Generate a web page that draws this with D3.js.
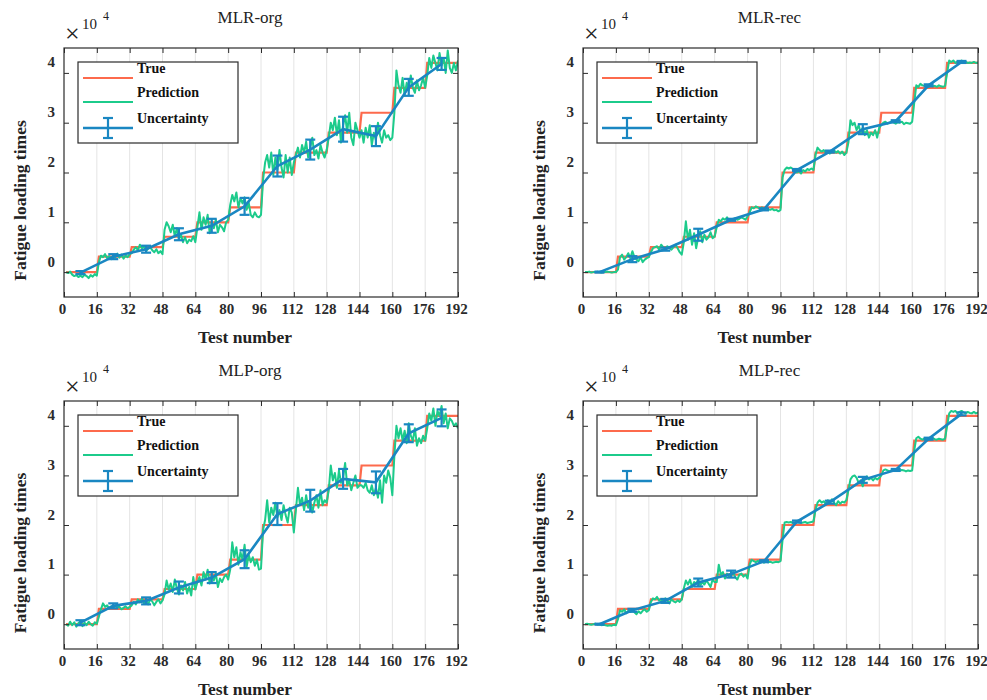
<!DOCTYPE html>
<html>
<head>
<meta charset="utf-8">
<script src="https://cdn.jsdelivr.net/npm/d3@7"></script>
<style>
  body { margin: 0; background: #fff; }
  svg { display: block; font-family: "Liberation Serif", "DejaVu Serif", serif; }
</style>
</head>
<body>
<svg id="drawing_region"></svg>
<script>
// values are in units of 1e4 (as on the y axis)
const xTicks = [0, 16, 32, 48, 64, 80, 96, 112, 128, 144, 160, 176, 192];
const yTicks = [0, 1, 2, 3, 4];
const testNumbers = d3.range(1, 193);
const uncX = [8, 24, 40, 56, 72, 88, 104, 120, 136, 152, 168, 184];

// true fatigue loading level of each block of 16 tests
const trueLevels = [0, 0.31, 0.50, 0.71, 1.00, 1.30, 2.00, 2.40, 2.80, 3.20, 3.70, 4.20];

const predMLRorg = [
  0.00,-0.02,0.01,-0.05,-0.08,-0.06,-0.10,-0.07,-0.10,-0.05,-0.08,-0.12,-0.06,-0.09,-0.04,-0.07,
  0.20,0.33,0.30,0.36,0.28,0.32,0.26,0.34,0.30,0.37,0.29,0.35,0.27,0.33,0.30,0.36,
  0.38,0.45,0.50,0.44,0.55,0.48,0.52,0.42,0.47,0.50,0.44,0.40,0.46,0.38,0.42,0.36,
  0.85,1.00,0.92,0.80,0.95,0.72,0.88,0.66,0.75,0.60,0.70,0.58,0.65,0.62,0.72,0.60,
  0.90,1.20,0.85,1.10,0.95,1.15,0.78,1.00,0.88,1.05,0.80,0.95,0.90,0.82,1.00,1.05,
  1.35,1.55,1.42,1.60,1.30,1.48,1.38,1.50,1.25,1.40,1.15,1.10,1.20,1.12,1.10,1.15,
  1.85,2.20,2.35,2.10,2.40,1.95,2.30,2.05,2.45,2.10,1.90,2.35,2.00,2.30,1.95,2.20,
  2.35,2.50,2.30,2.55,2.40,2.62,2.30,2.50,2.70,2.35,2.45,2.28,2.55,2.40,2.30,2.45,
  2.70,3.00,2.85,3.10,2.75,3.05,2.60,2.95,3.15,2.80,3.20,2.70,2.55,3.00,2.85,2.70,
  2.85,2.60,2.90,2.70,2.95,2.55,2.80,2.65,3.00,2.75,2.60,2.85,2.70,2.75,2.65,2.70,
  3.20,4.05,3.75,3.60,3.90,3.55,3.80,3.65,3.95,3.70,3.60,3.85,3.65,3.75,3.90,3.70,
  3.95,4.30,4.10,4.35,4.20,4.05,4.40,4.15,4.30,4.00,4.45,4.10,4.00,4.20,4.05,4.25
];
const predMLRrec = [
  0.00,0.00,0.01,-0.01,0.00,0.00,0.01,0.00,-0.01,0.00,0.00,0.01,0.00,-0.01,0.00,0.00,
  0.05,0.30,0.35,0.25,0.30,0.38,0.28,0.42,0.30,0.25,0.22,0.30,0.20,0.25,0.28,0.30,
  0.40,0.48,0.50,0.52,0.45,0.55,0.50,0.47,0.52,0.48,0.45,0.50,0.55,0.48,0.40,0.35,
  0.60,1.02,0.65,0.85,0.55,0.78,0.48,0.70,0.82,0.60,0.75,0.65,0.70,0.80,0.68,0.72,
  0.90,1.05,1.02,1.08,1.05,1.10,1.03,1.06,1.04,1.08,1.05,1.07,1.10,1.08,1.05,1.12,
  1.20,1.30,1.28,1.32,1.30,1.27,1.30,1.25,1.28,1.26,1.25,1.27,1.24,1.25,1.22,1.25,
  1.90,2.05,2.10,2.08,2.10,2.07,2.05,2.00,2.03,1.98,2.05,2.02,2.07,2.05,2.08,2.05,
  2.35,2.50,2.45,2.42,2.45,2.40,2.43,2.38,2.42,2.45,2.40,2.43,2.38,2.42,2.35,2.40,
  2.60,3.05,2.95,3.00,2.85,2.95,2.80,2.90,2.75,2.85,2.70,2.80,2.75,2.85,2.70,2.90,
  2.95,3.00,3.02,2.98,3.00,3.03,3.00,2.98,3.01,3.00,3.02,2.97,3.00,2.99,2.98,3.02,
  3.40,3.75,3.72,3.78,3.75,3.74,3.76,3.72,3.75,3.73,3.74,3.72,3.75,3.73,3.72,3.74,
  4.00,4.25,4.22,4.25,4.20,4.23,4.22,4.25,4.20,4.22,4.20,4.21,4.20,4.22,4.20,4.21
];
const predMLPorg = [
  0.00,-0.03,0.05,-0.02,0.04,-0.05,0.02,0.06,-0.04,0.03,-0.02,0.05,0.00,-0.03,0.04,0.01,
  0.15,0.30,0.42,0.35,0.38,0.32,0.36,0.33,0.37,0.34,0.35,0.30,0.33,0.36,0.32,0.35,
  0.38,0.45,0.40,0.50,0.44,0.52,0.42,0.48,0.40,0.50,0.46,0.38,0.45,0.50,0.42,0.48,
  0.60,0.88,0.70,0.82,0.65,0.90,0.72,0.60,0.78,0.68,0.85,0.62,0.75,0.58,0.95,0.70,
  0.85,0.95,0.78,1.05,0.90,1.10,0.82,0.98,0.88,1.02,0.75,0.92,0.85,0.95,1.00,0.90,
  1.10,1.65,1.35,1.55,1.20,1.45,1.30,1.60,1.15,1.40,1.25,1.35,1.18,1.30,1.10,1.12,
  1.90,2.10,2.50,2.05,2.35,2.20,2.45,2.15,2.30,2.10,2.40,2.20,2.05,2.35,2.25,1.85,
  2.30,2.75,2.40,2.55,2.30,2.60,2.35,2.50,2.25,2.45,2.60,2.35,2.70,2.40,2.50,2.45,
  2.70,3.20,2.90,3.05,2.75,3.10,2.85,2.95,3.25,2.80,2.90,2.70,2.85,3.00,2.75,2.80,
  2.80,2.75,2.85,2.70,2.65,2.80,2.60,2.75,2.55,2.90,2.45,3.00,2.85,3.10,2.95,2.60,
  3.40,4.00,3.75,3.95,3.70,3.90,3.65,4.05,3.80,3.70,3.95,3.60,3.75,3.65,3.80,3.70,
  3.95,4.25,4.10,4.35,4.00,4.30,4.20,4.40,4.05,4.25,3.95,4.15,4.10,4.00,4.05,3.95
];
const predMLPrec = [
  0.00,0.01,0.00,-0.01,0.00,0.01,-0.01,0.00,-0.02,-0.01,-0.02,-0.03,-0.02,-0.03,-0.01,-0.02,
  0.10,0.28,0.25,0.30,0.22,0.27,0.25,0.30,0.24,0.20,0.26,0.22,0.27,0.30,0.25,0.28,
  0.45,0.52,0.50,0.55,0.48,0.50,0.45,0.52,0.48,0.42,0.50,0.46,0.44,0.48,0.45,0.50,
  0.72,0.88,0.80,0.90,0.75,0.85,0.82,0.90,0.78,0.85,0.80,0.88,0.82,0.75,0.90,0.85,
  0.85,1.20,1.00,1.05,0.92,1.02,0.95,0.98,1.05,0.95,0.90,1.00,1.02,0.96,1.00,0.92,
  1.20,1.30,1.27,1.25,1.28,1.25,1.27,1.24,1.26,1.25,1.26,1.24,1.25,1.26,1.25,1.27,
  1.70,2.05,2.06,2.05,2.06,2.04,2.05,2.06,2.05,2.04,2.05,2.06,2.04,2.05,2.06,2.07,
  2.30,2.45,2.50,2.45,2.48,2.42,2.50,2.44,2.52,2.45,2.40,2.48,2.43,2.47,2.45,2.50,
  2.70,2.92,2.98,3.00,2.95,2.85,2.90,2.78,2.95,2.98,2.92,2.95,2.90,2.95,2.92,2.95,
  3.00,3.10,3.12,3.10,3.08,3.10,3.12,3.10,3.09,3.10,3.11,3.10,3.08,3.10,3.09,3.10,
  3.50,3.75,3.78,3.74,3.72,3.75,3.73,3.74,3.72,3.75,3.73,3.72,3.74,3.73,3.72,3.74,
  4.00,4.25,4.30,4.28,4.30,4.25,4.28,4.30,4.27,4.25,4.28,4.26,4.25,4.28,4.25,4.27
];

// uncertainty: mean and half-width at the centre of each block
const uncMeanMLRorg = [-0.01, 0.31, 0.46, 0.76, 0.93, 1.32, 2.13, 2.46, 2.87, 2.73, 3.71, 4.18];
const uncErrMLRorg  = [0.03, 0.05, 0.07, 0.12, 0.14, 0.17, 0.21, 0.20, 0.25, 0.20, 0.17, 0.12];
const uncMeanMLRrec = [0.00, 0.26, 0.46, 0.75, 1.05, 1.26, 2.05, 2.42, 2.87, 3.03, 3.75, 4.22];
const uncErrMLRrec  = [0.01, 0.06, 0.03, 0.12, 0.02, 0.02, 0.02, 0.02, 0.10, 0.02, 0.02, 0.02];
const uncMeanMLPorg = [0.03, 0.37, 0.47, 0.74, 0.94, 1.31, 2.22, 2.49, 2.93, 2.86, 3.85, 4.16];
const uncErrMLPorg  = [0.05, 0.05, 0.07, 0.12, 0.11, 0.18, 0.22, 0.22, 0.20, 0.22, 0.18, 0.17];
const uncMeanMLPrec = [0.00, 0.28, 0.47, 0.84, 1.01, 1.27, 2.07, 2.46, 2.91, 3.11, 3.74, 4.24];
const uncErrMLPrec  = [0.01, 0.03, 0.04, 0.08, 0.07, 0.02, 0.02, 0.03, 0.06, 0.02, 0.02, 0.03];

const titles = ["MLR-org", "MLR-rec", "MLP-org", "MLP-rec"];

const colors = { truth: "#fd6a4c", pred: "#1ccb8b", unc: "#1a87c2", axis: "#2b2b2b", grid: "#e4e4e4" };

const svg = d3.select("#drawing_region").attr("width", 987).attr("height", 700);

const panels = [
  { box: { left: 64, right: 458, top: 48, bottom: 297 }, pred: predMLRorg, mean: uncMeanMLRorg, err: uncErrMLRorg },
  { box: { left: 583, right: 978, top: 48, bottom: 297 }, pred: predMLRrec, mean: uncMeanMLRrec, err: uncErrMLRrec },
  { box: { left: 64, right: 458, top: 401, bottom: 649 }, pred: predMLPorg, mean: uncMeanMLPorg, err: uncErrMLPorg },
  { box: { left: 583, right: 978, top: 401, bottom: 649 }, pred: predMLPrec, mean: uncMeanMLPrec, err: uncErrMLPrec }
];

panels.forEach((p, i) => drawPanel(p, titles[i], i));

function drawPanel(p, title, idx) {
  const b = p.box;
  const g = svg.append("g");

  const x = d3.scaleLinear().domain([0, 192]).range([b.left, b.right]);
  const y = d3.scaleLinear().domain([-0.5, 4.5]).range([b.bottom, b.top]);

  // vertical grid
  g.append("g").selectAll("line")
    .data(xTicks.slice(1, -1))
    .join("line")
    .attr("x1", d => x(d)).attr("x2", d => x(d))
    .attr("y1", b.top).attr("y2", b.bottom)
    .attr("stroke", colors.grid).attr("stroke-width", 1);

  const clipId = "clip" + idx;
  g.append("clipPath").attr("id", clipId)
    .append("rect")
    .attr("x", b.left).attr("y", b.top)
    .attr("width", b.right - b.left).attr("height", b.bottom - b.top);

  const plot = g.append("g").attr("clip-path", `url(#${clipId})`);

  const line = d3.line().x(d => x(d[0])).y(d => y(d[1]));

  const trueSeries = testNumbers.map(t => [t, trueLevels[Math.floor((t - 1) / 16)]]);
  const predSeries = testNumbers.map((t, k) => [t, p.pred[k]]);
  const uncSeries = uncX.map((t, k) => [t, p.mean[k], p.err[k]]);

  plot.append("path").datum(trueSeries)
    .attr("fill", "none").attr("stroke", colors.truth).attr("stroke-width", 2.2)
    .attr("d", line);
  plot.append("path").datum(predSeries)
    .attr("fill", "none").attr("stroke", colors.pred).attr("stroke-width", 2)
    .attr("stroke-linejoin", "round")
    .attr("d", line);
  plot.append("path").datum(uncSeries)
    .attr("fill", "none").attr("stroke", colors.unc).attr("stroke-width", 2.6)
    .attr("d", line);

  // error bars
  const eb = plot.append("g").attr("stroke", colors.unc).attr("stroke-width", 2.2);
  uncSeries.forEach(d => {
    const cx = x(d[0]), y1 = y(d[1] - d[2]), y2 = y(d[1] + d[2]);
    eb.append("line").attr("x1", cx).attr("x2", cx).attr("y1", y1).attr("y2", y2);
    eb.append("line").attr("x1", cx - 5).attr("x2", cx + 5).attr("y1", y1).attr("y2", y1);
    eb.append("line").attr("x1", cx - 5).attr("x2", cx + 5).attr("y1", y2).attr("y2", y2);
  });

  // axes (ticks inside the box on all four sides)
  const axFont = sel => sel.selectAll("text")
    .attr("font-family", "Liberation Serif, serif")
    .attr("font-size", 15).attr("font-weight", "bold").attr("fill", colors.axis);

  const xAxis = g.append("g").attr("transform", `translate(0,${b.bottom})`)
    .call(d3.axisBottom(x).tickValues(xTicks).tickFormat(d3.format("d"))
      .tickSize(-5).tickSizeOuter(0).tickPadding(6));
  xAxis.call(axFont);
  xAxis.selectAll("text").attr("dx", -2);

  const yAxis = g.append("g").attr("transform", `translate(${b.left},0)`)
    .call(d3.axisLeft(y).tickValues(yTicks).tickFormat(d3.format("d"))
      .tickSize(-5).tickSizeOuter(0).tickPadding(9));
  yAxis.call(axFont);
  yAxis.selectAll("text").attr("dy", "-0.4em");

  g.append("g").attr("transform", `translate(0,${b.top})`)
    .call(d3.axisTop(x).tickValues(xTicks).tickSize(-5).tickSizeOuter(0).tickFormat(""));
  g.append("g").attr("transform", `translate(${b.right},0)`)
    .call(d3.axisRight(y).tickValues(yTicks).tickSize(-5).tickSizeOuter(0).tickFormat(""));

  g.selectAll(".domain").remove();
  g.selectAll(".tick line").attr("stroke", colors.axis);

  g.append("rect")
    .attr("x", b.left).attr("y", b.top)
    .attr("width", b.right - b.left).attr("height", b.bottom - b.top)
    .attr("fill", "none").attr("stroke", colors.axis).attr("stroke-width", 1.2);

  // title and labels
  const cx = (b.left + b.right) / 2;
  g.append("text").attr("x", cx - 11).attr("y", b.top - 25)
    .attr("text-anchor", "middle").attr("font-size", 17).attr("fill", "#222")
    .text(title);

  g.append("text").attr("x", cx - 16).attr("y", b.bottom + 46)
    .attr("text-anchor", "middle").attr("font-size", 17.5).attr("font-weight", "bold").attr("fill", "#222")
    .text("Test number");

  g.append("text")
    .attr("transform", `translate(${b.left - 44},${(b.top + b.bottom) / 2 + 28}) rotate(-90)`)
    .attr("text-anchor", "middle").attr("dominant-baseline", "central")
    .attr("font-size", 17.5).attr("font-weight", "bold").attr("fill", "#222")
    .text("Fatigue loading times");

  // x10^4 exponent label
  g.append("text").attr("x", b.left + 1).attr("y", b.top - 6)
    .attr("font-size", 26).attr("fill", "#222").text("\u00d7");
  g.append("text").attr("x", b.left + 18).attr("y", b.top - 19)
    .attr("font-size", 15).attr("fill", "#222").text("10");
  g.append("text").attr("x", b.left + 39).attr("y", b.top - 28)
    .attr("font-size", 12).attr("fill", "#222").text("4");

  // legend
  const lg = g.append("g").attr("transform", `translate(${b.left + 14},${b.top + 14})`);
  lg.append("rect").attr("width", 160).attr("height", 81)
    .attr("fill", "#fff").attr("stroke", colors.axis).attr("stroke-width", 1.2);
  const items = [
    { name: "True", color: colors.truth, ly: 16, ty: 11 },
    { name: "Prediction", color: colors.pred, ly: 40, ty: 35 },
    { name: "Uncertainty", color: colors.unc, ly: 66, ty: 61 }
  ];
  items.forEach((it, k) => {
    lg.append("line").attr("x1", 5).attr("x2", 55).attr("y1", it.ly).attr("y2", it.ly)
      .attr("stroke", it.color).attr("stroke-width", k === 2 ? 2.6 : 2.2);
    lg.append("text").attr("x", 59).attr("y", it.ty)
      .attr("font-size", 14).attr("font-weight", "bold").attr("fill", "#111")
      .text(it.name);
  });
  const ig = lg.append("g").attr("stroke", colors.unc).attr("stroke-width", 2.2);
  ig.append("line").attr("x1", 30).attr("x2", 30).attr("y1", 56).attr("y2", 76);
  ig.append("line").attr("x1", 25).attr("x2", 35).attr("y1", 56).attr("y2", 56);
  ig.append("line").attr("x1", 25).attr("x2", 35).attr("y1", 76).attr("y2", 76);
}
</script>
</body>
</html>
